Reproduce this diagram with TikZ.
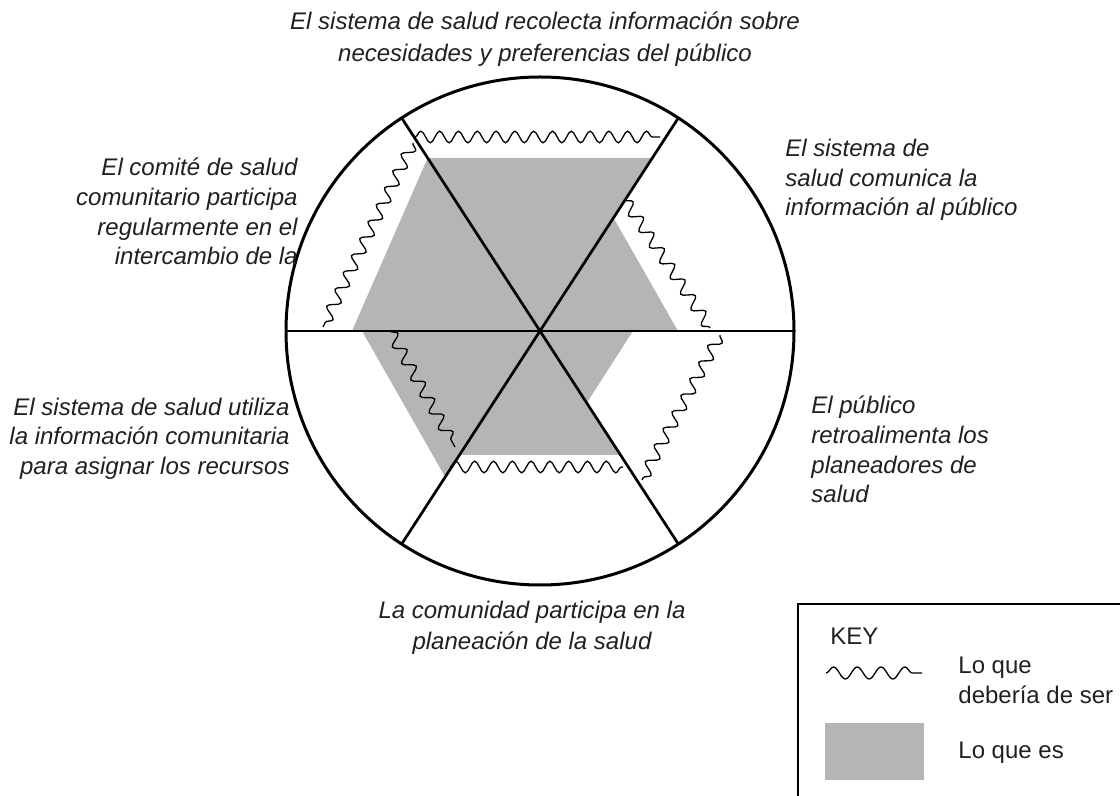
\documentclass[tikz,border=0pt]{standalone}
\usepackage{fontspec}
\setmainfont{Liberation Sans}
\usetikzlibrary{decorations.pathmorphing}
\definecolor{isgray}{RGB}{180,181,183}
\definecolor{ink}{RGB}{35,31,32}
\begin{document}
\begin{tikzpicture}[x=0.5pt, y=-0.5pt,
  spoke/.style={draw=black, line width=1.35pt},
  wish/.style={draw=black, line width=0.65pt, decorate, decoration={snake, amplitude=2.9pt, segment length=9.4pt}},
  blurb/.style={inner sep=0pt, text=ink, font=\fontsize{12}{14.8}\selectfont\itshape},
  keytext/.style={inner sep=0pt, text=ink, font=\fontsize{12}{14.8}\selectfont, align=left, anchor=west}]
\useasboundingbox (0,0) rectangle (1120,796);
% what is
\fill[isgray] (427.7, 158) -- (652.3, 158) -- (613.5, 217.8) -- (678, 331) -- (633, 331) -- (586.7, 403) -- (620.5, 455) -- (459.5, 455) -- (445.2, 477) -- (362, 331) -- (352, 331) -- cycle;
% what should be
\coordinate (111) at (415, 137);
\coordinate (112) at (660, 137);
\coordinate (113) at (413, 143);
\coordinate (114) at (323, 327);
\coordinate (115) at (625, 200);
\coordinate (116) at (710, 328);
\coordinate (117) at (720, 335);
\coordinate (118) at (642, 480);
\coordinate (119) at (450, 467);
\coordinate (120) at (623, 467);
\coordinate (121) at (390, 331);
\coordinate (122) at (455, 447);
\draw[wish] (111) -- (112);
\draw[wish] (113) -- (114);
\draw[wish] (115) -- (116);
\draw[wish] (117) -- (118);
\draw[wish] (119) -- (120);
\draw[wish] (121) -- (122);
% wheel
\coordinate (100) at (540, 331);
\coordinate (101) at (678.3, 118.0);
\coordinate (102) at (401.7, 118.0);
\coordinate (103) at (401.7, 544.0);
\coordinate (104) at (678.3, 544.0);
\coordinate (105) at (286, 331);
\coordinate (106) at (794, 331);
\draw[spoke, line width=1.5pt] (100) circle[radius=127pt];
\draw[spoke] (101) -- (103);
\draw[spoke] (102) -- (104);
\draw[spoke] (105) -- (106);
\node[blurb, align=center, font=\fontsize{12}{16}\selectfont\itshape] at (545, 39) (200) {El sistema de salud recolecta información sobre\\necesidades y preferencias del público};
\node[blurb, align=right, anchor=east] at (298, 211.5) (201) {El comité de salud\\comunitario participa\\regularmente en el\\intercambio de la};
\node[blurb, align=left, anchor=west] at (785, 180) (202) {El sistema de\\salud comunica la\\información al público};
\node[blurb, align=right, anchor=east] at (290, 438.5) (203) {El sistema de salud utiliza\\la información comunitaria\\para asignar los recursos};
\node[blurb, align=left, anchor=west] at (811, 449.5) (204) {El público\\retroalimenta los\\planeadores de\\salud};
\node[blurb, align=center, font=\fontsize{12}{15.5}\selectfont\itshape] at (532, 627.5) (205) {La comunidad participa en la\\planeación de la salud};
% key
\coordinate (130) at (798, 796);
\coordinate (131) at (798, 604);
\coordinate (132) at (1120, 604);
\draw[line width=1pt] (130) -- (131) -- (132);
\node[keytext] at (830, 636) (206) {KEY};
\coordinate (133) at (826, 673);
\coordinate (134) at (922, 673);
\draw[wish, decoration={snake, amplitude=3pt, segment length=11.9pt}] (133) -- (134);
\node[keytext] at (958, 680.5) (207) {Lo que\\debería de ser};
\fill[isgray] (825, 723) rectangle (924, 780);
\node[keytext] at (958, 753) (208) {Lo que es};
\end{tikzpicture}
\end{document}
